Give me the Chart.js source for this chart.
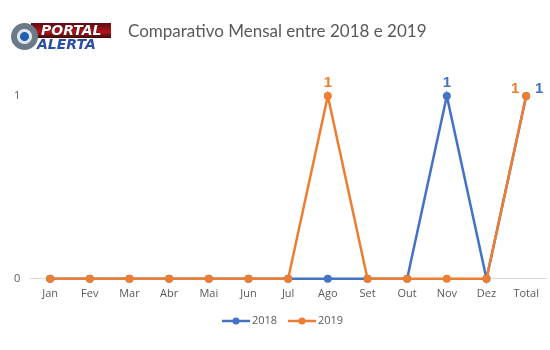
<!DOCTYPE html>
<html>
<head>
<meta charset="utf-8">
<script src="https://cdn.jsdelivr.net/npm/chart.js@4"></script>
<style>
  body { margin: 0; background: #fff; }
  #wrap { position: relative; width: 550px; height: 350px; }
  #chart { position: absolute; left: 0; top: 0; }
  #logo { position: absolute; left: 11px; top: 20px; width: 100px; height: 34px; }
  #logo .eye { position: absolute; left: 0; top: 3px; width: 27px; height: 27px; border-radius: 50%;
    background: radial-gradient(circle, #1d5fb0 0 4px, #dfe6ee 5px 7px, #6b7a88 8px 13.5px); }
  #logo .top { position: absolute; left: 20px; top: 3px; width: 80px; height: 15px;
    background: linear-gradient(#5a0d10, #b3141b 60%, #3a0a0a); }
  #logo .top span { position: absolute; left: 10px; top: -1px; font: italic bold 14px "DejaVu Sans", sans-serif;
    color: #fff; text-shadow: 0 0 1px #000; }
  #logo .bot { position: absolute; left: 26px; top: 16px; font: italic bold 14px "DejaVu Sans", sans-serif;
    color: #2a4ea3; }
  #title { position: absolute; left: 128px; top: 20px; font: 17px Lato, sans-serif; color: #595959; }
</style>
</head>
<body>
<div id="wrap">
  <canvas id="chart" width="550" height="350"></canvas>
  <div id="logo"><div class="top"><span>PORTAL</span></div><div class="eye"></div><div class="bot">ALERTA</div></div>
  <div id="title">Comparativo Mensal entre 2018 e 2019</div>
</div>
<script>
const months = ['Jan', 'Fev', 'Mar', 'Abr', 'Mai', 'Jun', 'Jul', 'Ago', 'Set', 'Out', 'Nov', 'Dez', 'Total'];
const values2018 = [0, 0, 0, 0, 0, 0, 0, 0, 0, 0, 1, 0, 1];
const values2019 = [0, 0, 0, 0, 0, 0, 0, 1, 0, 0, 0, 0, 1];
const seriesNames = ['2018', '2019'];
const yTicks = [0, 1];

const blue = '#4472C4';
const orange = '#ED7D31';

// value labels above the points that are above zero
const pointLabels = {
    id: 'pointLabels',
    afterDatasetsDraw(chart) {
        const ctx = chart.ctx;
        ctx.save();
        ctx.font = 'bold 15px "Liberation Sans", sans-serif';
        ctx.textAlign = 'center';
        ctx.textBaseline = 'bottom';
        chart.data.datasets.forEach((ds, di) => {
            const meta = chart.getDatasetMeta(di);
            meta.data.forEach((pt, i) => {
                const v = ds.data[i];
                if (v <= 0) return;
                let dx = 0, dy = -6;
                // both series share the Total point, so push the labels apart
                if (i === ds.data.length - 1) {
                    dx = di === 0 ? 13 : -11;
                    dy = 0;
                }
                ctx.fillStyle = ds.borderColor;
                ctx.fillText(String(v), pt.x + dx, pt.y + dy);
            });
        });
        ctx.restore();
    }
};

// legend with a line and marker for each series
const lineLegend = {
    id: 'lineLegend',
    afterDraw(chart) {
        const ctx = chart.ctx;
        const y = 321;
        let x = 222;
        ctx.save();
        ctx.font = '11px "Open Sans", sans-serif';
        ctx.textBaseline = 'middle';
        chart.data.datasets.forEach(ds => {
            ctx.strokeStyle = ds.borderColor;
            ctx.lineWidth = 2.5;
            ctx.beginPath();
            ctx.moveTo(x, y);
            ctx.lineTo(x + 28, y);
            ctx.stroke();
            ctx.fillStyle = ds.borderColor;
            ctx.beginPath();
            ctx.arc(x + 14, y, 3.5, 0, Math.PI * 2);
            ctx.fill();
            ctx.fillStyle = '#595959';
            ctx.fillText(ds.label, x + 30, y);
            x += 66;
        });
        ctx.restore();
    }
};

new Chart(document.getElementById('chart'), {
    type: 'line',
    data: {
        labels: months,
        datasets: [
            { label: seriesNames[0], data: values2018, borderColor: blue, backgroundColor: blue, order: 2, clip: false },
            { label: seriesNames[1], data: values2019, borderColor: orange, backgroundColor: orange, order: 1, clip: false }
        ]
    },
    options: {
        responsive: false,
        animation: false,
        layout: { padding: { left: 4, right: 0, top: 96, bottom: 42 } },
        elements: {
            line: { borderWidth: 2.5, tension: 0 },
            point: { radius: 4, borderWidth: 0, hoverRadius: 4 }
        },
        plugins: {
            legend: { display: false },
            tooltip: { enabled: false },
            title: { display: false }
        },
        scales: {
            x: {
                offset: true,
                grid: { display: false, drawTicks: false },
                border: { display: true, color: '#d9d9d9', width: 1 },
                ticks: { color: '#595959', font: { size: 11, family: '"Open Sans", sans-serif' }, padding: 8 }
            },
            y: {
                min: yTicks[0],
                max: yTicks[yTicks.length - 1],
                afterBuildTicks(axis) { axis.ticks = yTicks.map(v => ({ value: v })); },
                grid: { display: false, drawTicks: false },
                border: { display: false },
                ticks: { color: '#595959', font: { size: 11, family: '"Open Sans", sans-serif' }, padding: 10 }
            }
        }
    },
    plugins: [pointLabels, lineLegend]
});
</script>
</body>
</html>
